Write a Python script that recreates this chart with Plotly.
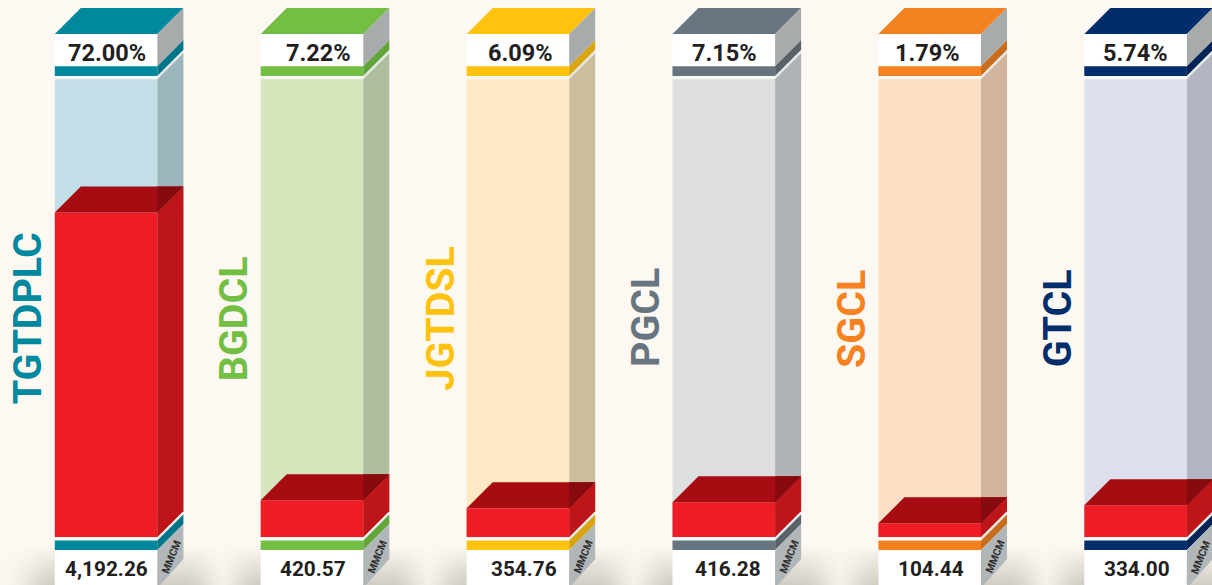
import math
import plotly.graph_objects as go

# ---- data ----
companies = ["TGTDPLC", "BGDCL", "JGTDSL", "PGCL", "SGCL", "GTCL"]
shares = ["72.00%", "7.22%", "6.09%", "7.15%", "1.79%", "5.74%"]
volumes = ["4,192.26", "420.57", "354.76", "416.28", "104.44", "334.00"]
# height of the red fill as drawn, in MMCM-equivalent axis units
fill_levels = [4192, 477, 374, 452, 181, 413]
tank_capacity = 5910
unit_label = "MMCM"

# ---- palette ----
main_colors = ["#00889f", "#72bf44", "#ffc20e", "#66757f", "#f58220", "#002d6c"]
dark_colors = ["#007588", "#62a53b", "#d8a410", "#576269", "#c96c1e", "#002458"]
glass_colors = ["#c2dee6", "#d7e5bd", "#ffeac5", "#dcdee0", "#fddfc5", "#dde0ec"]
glass_side_colors = ["#9cb6be", "#afbd9d", "#cdbd9f", "#afb3b6", "#d0b49c", "#b3b6c2"]
BG = "#fdf8f1"
SHADOW = "#cdcac1"
RED, RED_SIDE, RED_TOP, RED_OVER = "#ee1c25", "#be1519", "#a60c12", "#870a0e"
GREY_UP, GREY_LOW = "#a8abab", "#b1b6b8"
INK = "#231f20"

# ---- layout scale (pixels) ----
W, H = 1212, 585
BASE_PX = 537.3        # pixel row of axis zero
PX_PER_UNIT = 0.0775
X0, STEP, FW, D = 54.8, 205.9, 102.6, 26
share_nudge = [0, 5.5, 2, 0, -3, -1]
volume_nudge = [0, 0, 6, 4, 1, 1]


def y_of(px):
    """axis value for a pixel row"""
    return (BASE_PX - px) / PX_PER_UNIT


fig = go.Figure()


def poly(xs, pys, color):
    fig.add_trace(go.Scatter(
        x=xs + xs[:1], y=[y_of(p) for p in pys + pys[:1]],
        mode="lines", fill="toself", fillcolor=color,
        line=dict(width=0, color=color),
        hoverinfo="skip", showlegend=False))


# soft ground shadow behind the columns
grid_x = list(range(-4, W + 8, 4))
grid_py = list(range(530, H + 4, 2))
shade = []
for py in grid_py:
    row = []
    fall = max(0.0, 1 - (H + 2 - py) / 42.0)
    for gx in grid_x:
        best = 0.0
        for i in range(len(companies)):
            L = X0 + i * STEP
            R = L + FW + D
            d = max(L - gx, gx - R, 0)
            best = max(best, math.exp(-((d / 30.0) ** 2)))
        row.append(best * fall)
    shade.append(row)
fig.add_trace(go.Heatmap(
    x=grid_x, y=[y_of(p) for p in grid_py], z=shade, zmin=0, zmax=1, zsmooth="best",
    colorscale=[[0, BG], [1, SHADOW]], showscale=False, hoverinfo="skip"))

for i, name in enumerate(companies):
    L = X0 + i * STEP
    R = L + FW
    B = R + D
    LD = L + D
    c, dk, gl, gs = main_colors[i], dark_colors[i], glass_colors[i], glass_side_colors[i]
    top_front = BASE_PX - tank_capacity * PX_PER_UNIT
    fill_px = BASE_PX - fill_levels[i] * PX_PER_UNIT

    # cap
    poly([L, LD, B, R], [34, 8, 8, 34], c)
    poly([L, R, R, L], [34, 34, 66.3, 66.3], "#ffffff")
    poly([R, B, B, R], [34, 8, 40.3, 66.3], GREY_UP)
    poly([L, R, R, L], [66.3, 66.3, 76, 76], c)
    poly([R, B, B, R], [66.3, 40.3, 50, 76], dk)
    poly([L, R, R, L], [76, 76, top_front, top_front], "#f6f8f4")
    poly([R, B, B, R], [76, 50, top_front - D, top_front], "#e4e7e4")

    # glass
    poly([L, R, R, L], [top_front, top_front, BASE_PX, BASE_PX], gl)
    poly([R, B, B, R], [top_front, top_front - D, BASE_PX - D, BASE_PX], gs)

    # red fill
    poly([L, R, R, L], [fill_px, fill_px, BASE_PX, BASE_PX], RED)
    poly([R, B, B, R], [fill_px, fill_px - D, BASE_PX - D, BASE_PX], RED_SIDE)
    poly([L, LD, B, R], [fill_px, fill_px - D, fill_px - D, fill_px], RED_TOP)
    poly([R, B, R], [fill_px, fill_px - D, fill_px - D], RED_OVER)

    # base
    poly([L, R, R, L], [BASE_PX, BASE_PX, 540.6, 540.6], "#ffffff")
    poly([R, B, B, R], [BASE_PX, BASE_PX - D, 514.6, 540.6], "#e6eaea")
    poly([L, R, R, L], [540.6, 540.6, 550, 550], c)
    poly([R, B, B, R], [540.6, 514.6, 524, 550], dk)
    poly([L, R, R, L], [550, 550, H + 3, H + 3], "#ffffff")
    poly([R, B, B, R], [550, 524, 559, H + 3], GREY_LOW)

annotations = []


def note(text, x, px, size, color, angle=0, family="Roboto"):
    annotations.append(dict(
        text=f"<b>{text}</b>", x=x, y=y_of(px), xref="x", yref="y",
        showarrow=False, textangle=angle, xanchor="center", yanchor="middle",
        font=dict(family=family, size=size, color=color)))


name_centers = [318.5, 318.5, 319, 317.5, 318.5, 318]
for i, name in enumerate(companies):
    L = X0 + i * STEP
    note(shares[i], L + FW / 2 + 0.5 + share_nudge[i], 53, 23.5, INK)
    note(volumes[i], L + FW / 2 + 0.5 + volume_nudge[i], 569, 20.8, INK)
    note(name, L - 27, name_centers[i], 39.4, main_colors[i], angle=-90)
    note(unit_label, L + FW + D / 2 + 0.5, 557, 10.5, "#2e2e2e", angle=-68)

fig.update_layout(
    width=W, height=H, margin=dict(l=0, r=0, t=0, b=0),
    paper_bgcolor=BG, plot_bgcolor=BG, showlegend=False,
    annotations=annotations,
    xaxis=dict(range=[0, W], visible=False, fixedrange=True),
    yaxis=dict(range=[y_of(H), y_of(0)], visible=False, fixedrange=True),
)
fig.write_html("out.html", config=dict(displayModeBar=False),
               post_script=f"document.body.style.margin='0';document.body.style.background='{BG}';")
